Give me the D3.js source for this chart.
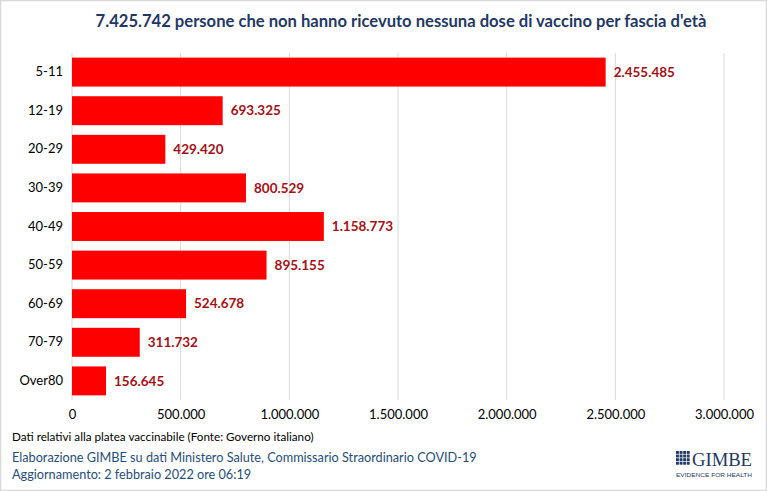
<!DOCTYPE html>
<html>
<head>
<meta charset="utf-8">
<script src="https://cdn.jsdelivr.net/npm/d3@7"></script>
<style>
  body { margin: 0; background: #fff; }
  svg { display: block; }
</style>
</head>
<body>
<div id="chart"></div>
<script>
// data
var categories = ["5-11", "12-19", "20-29", "30-39", "40-49", "50-59", "60-69", "70-79", "Over80"];
var values = [2455485, 693325, 429420, 800529, 1158773, 895155, 524678, 311732, 156645];
var xTicks = [0, 500000, 1000000, 1500000, 2000000, 2500000, 3000000];

var W = 767, H = 491;
var fmt = function(v) { return d3.format(",")(v).replace(/,/g, "."); };

var svg = d3.select("#chart").append("svg")
  .attr("width", W).attr("height", H);

// frame
svg.append("rect")
  .attr("x", 0.5).attr("y", 0.5).attr("width", W - 1).attr("height", H - 1)
  .attr("fill", "#fff").attr("stroke", "#d9d9d9").attr("stroke-width", 1.5);

var x = d3.scaleLinear().domain([0, 3000000]).range([72, 724]);
var y = d3.scaleBand().domain(categories).range([53, 400]).paddingInner(0.25).paddingOuter(0.12);

// gridlines
svg.append("g").selectAll("line")
  .data(xTicks)
  .enter().append("line")
  .attr("x1", function(d) { return x(d); })
  .attr("x2", function(d) { return x(d); })
  .attr("y1", 53).attr("y2", 400)
  .attr("stroke", "#d9d9d9").attr("stroke-width", 1);

// x axis labels
var xAxis = svg.append("g")
  .attr("transform", "translate(0,400)")
  .call(d3.axisBottom(x).tickValues(xTicks).tickFormat(fmt).tickSize(0).tickPadding(10));
xAxis.select(".domain").remove();
xAxis.selectAll("text")
  .attr("font-family", "Lato, 'Open Sans', sans-serif")
  .attr("font-size", 13).attr("fill", "#000");

// y axis labels
var yAxis = svg.append("g")
  .attr("transform", "translate(63,0)")
  .call(d3.axisLeft(y).tickSize(0).tickPadding(0));
yAxis.select(".domain").remove();
yAxis.selectAll("text")
  .attr("font-family", "Lato, 'Open Sans', sans-serif")
  .attr("font-size", 13).attr("fill", "#000");

// bars
svg.append("g").selectAll("rect")
  .data(values)
  .enter().append("rect")
  .attr("x", x(0))
  .attr("y", function(d, i) { return y(categories[i]); })
  .attr("width", function(d) { return x(d) - x(0); })
  .attr("height", y.bandwidth())
  .attr("fill", "#ff0000");

// value labels
svg.append("g").selectAll("text")
  .data(values)
  .enter().append("text")
  .attr("x", function(d) { return x(d) + 8; })
  .attr("y", function(d, i) { return y(categories[i]) + y.bandwidth() / 2; })
  .attr("dy", "0.35em")
  .attr("font-family", "Lato, 'Open Sans', sans-serif")
  .attr("font-weight", "bold")
  .attr("font-size", 13.5)
  .attr("fill", "#a50f15")
  .text(fmt);

// title
svg.append("text")
  .attr("x", 401).attr("y", 27)
  .attr("text-anchor", "middle")
  .attr("font-family", "Lato, 'Open Sans', sans-serif")
  .attr("font-weight", "bold")
  .attr("font-size", 16.6)
  .attr("fill", "#1f3864")
  .text("7.425.742 persone che non hanno ricevuto nessuna dose di vaccino per fascia d'età");

// footer
svg.append("text")
  .attr("x", 12).attr("y", 441)
  .attr("font-family", "Lato, 'Open Sans', sans-serif")
  .attr("font-size", 11.7).attr("fill", "#000")
  .text("Dati relativi alla platea vaccinabile (Fonte: Governo italiano)");
svg.append("text")
  .attr("x", 12).attr("y", 462)
  .attr("font-family", "Lato, 'Open Sans', sans-serif")
  .attr("font-size", 12.7).attr("fill", "#1f4e79")
  .text("Elaborazione GIMBE su dati Ministero Salute, Commissario Straordinario COVID-19");
svg.append("text")
  .attr("x", 12).attr("y", 479)
  .attr("font-family", "Lato, 'Open Sans', sans-serif")
  .attr("font-size", 12.7).attr("fill", "#1f4e79")
  .text("Aggiornamento: 2 febbraio 2022 ore 06:19");

// GIMBE logo
var logo = svg.append("g").attr("transform", "translate(676,451)");
var cells = d3.range(16);
logo.selectAll("rect")
  .data(cells)
  .enter().append("rect")
  .attr("x", function(d) { return (d % 4) * 3.6; })
  .attr("y", function(d) { return Math.floor(d / 4) * 3.6; })
  .attr("width", 2.9).attr("height", 2.9)
  .attr("fill", "#1f3864");
logo.append("text")
  .attr("x", 16).attr("y", 14.5)
  .attr("font-family", "'Liberation Serif', 'DejaVu Serif', serif")
  .attr("font-size", 18).attr("fill", "#1f3864")
  .attr("textLength", 60).attr("lengthAdjust", "spacingAndGlyphs")
  .text("GIMBE");
logo.append("text")
  .attr("x", 0).attr("y", 25.5)
  .attr("font-family", "'Liberation Sans Narrow', 'Liberation Sans', sans-serif")
  .attr("font-size", 6).attr("fill", "#1f3864")
  .attr("textLength", 76).attr("lengthAdjust", "spacingAndGlyphs")
  .text("EVIDENCE FOR HEALTH");
</script>
</body>
</html>
